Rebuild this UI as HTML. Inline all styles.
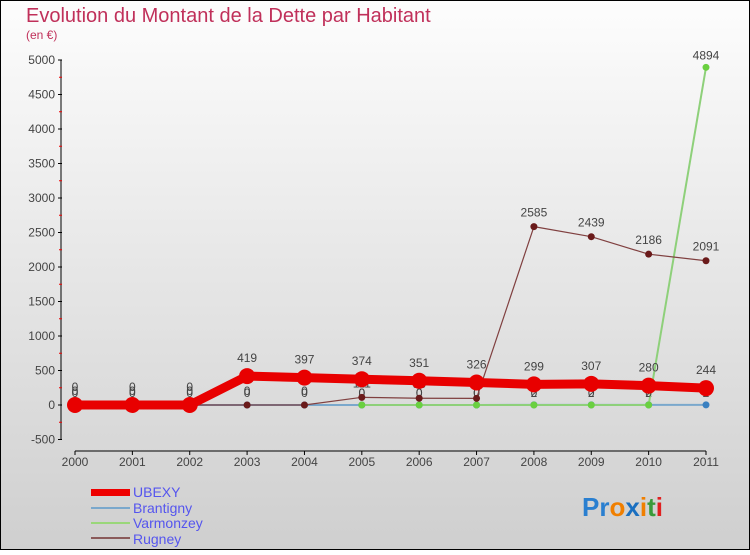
<!DOCTYPE html>
<html><head><meta charset="utf-8"><style>
html,body{margin:0;padding:0}
body{width:750px;height:550px;overflow:hidden;font-family:"Liberation Sans",sans-serif}
svg text{font-family:"Liberation Sans",sans-serif}
</style></head><body>
<svg id="chart" width="750" height="550" xmlns="http://www.w3.org/2000/svg">
<defs><linearGradient id="bg" x1="0" y1="0" x2="0" y2="1"><stop offset="0" stop-color="#fdfdfd"/><stop offset="1" stop-color="#cfcfcf"/></linearGradient></defs>
<rect x="0.5" y="0.5" width="749" height="549" fill="url(#bg)" stroke="#000"/>
<text x="26" y="22" font-size="20" fill="#c0305a">Evolution du Montant de la Dette par Habitant</text>
<text x="26" y="39" font-size="12" fill="#c0305a">(en €)</text>
<g id="axes"></g>
<g id="series"></g>
<g id="legend">
<rect x="91" y="489" width="39" height="7" fill="#e00"/>
<text x="133" y="497" font-size="14" fill="#55e">UBEXY</text>
<line x1="91" y1="508" x2="130" y2="508" stroke="#7aa8cc" stroke-width="2"/>
<text x="133" y="513" font-size="14" fill="#55e">Brantigny</text>
<line x1="91" y1="523" x2="130" y2="523" stroke="#9ad77a" stroke-width="2"/>
<text x="133" y="528" font-size="14" fill="#55e">Varmonzey</text>
<line x1="91" y1="538" x2="130" y2="538" stroke="#8a5a5a" stroke-width="2"/>
<text x="133" y="544" font-size="14" fill="#55e">Rugney</text>
</g>
<g font-size="26" font-weight="bold">
<text x="582" y="516"><tspan fill="#2a7fd0">Pr</tspan><tspan fill="#f07f00">o</tspan><tspan fill="#1a6fc0">x</tspan><tspan fill="#f07f00">i</tspan><tspan fill="#3a9a3a">t</tspan><tspan fill="#e02020">i</tspan></text>
</g>
</svg>
<script>
const years=[2000,2001,2002,2003,2004,2005,2006,2007,2008,2009,2010,2011];
const yTicks=[-500,0,500,1000,1500,2000,2500,3000,3500,4000,4500,5000];
const ubexy=[0,0,0,419,397,374,351,326,299,307,280,244];
const brantigny=[0,0,0,0,0,0,0,0,2,2,2,2];
const varmonzey=[null,null,null,null,null,0,0,0,0,0,0,4894];
const rugney=[0,0,0,0,0,111,98,96,2585,2439,2186,2091];
const NS="http://www.w3.org/2000/svg";
function xS(i){return 75+i*(706-75)/11;}
function yS(v){return 405-v*0.069;}
function mk(tag,attrs,parent){const e=document.createElementNS(NS,tag);for(const k in attrs)e.setAttribute(k,attrs[k]);parent.appendChild(e);return e;}
const axes=document.getElementById('axes');
const ser=document.getElementById('series');
let a=mk('line',{x1:61,y1:yS(5000),x2:61,y2:yS(-500),stroke:'#000'},axes);


a=mk('line',{x1:75,y1:451,x2:706,y2:451,stroke:'#000'},axes);


yTicks.forEach(v=>{
 mk('line',{x1:58,y1:yS(v),x2:62,y2:yS(v),stroke:'#000'},axes);
 if(v<5000) mk('line',{x1:59,y1:yS(v+250),x2:62,y2:yS(v+250),stroke:'#e00'},axes);
 const t=mk('text',{x:55,y:yS(v)+4,'font-size':12,fill:'#444','text-anchor':'end'},axes);
 t.textContent=v;
 
 
});
years.forEach((y,i)=>{
 mk('line',{x1:xS(i),y1:451,x2:xS(i),y2:455,stroke:'#000'},axes);
 const t=mk('text',{x:xS(i),y:466,'font-size':12,fill:'#444','text-anchor':'middle'},axes);
 t.textContent=y;
 
 
});
function draw(name,data,color,w,r,ptColor,labelDy){
 const g=mk('g',{},ser);
 
 
 let d='';
 data.forEach((v,i)=>{if(v===null)return;d+=(d?'L':'M')+xS(i)+' '+yS(v);});
 mk('path',{d:d,fill:'none',stroke:color,'stroke-width':w,'stroke-linejoin':'round'},g);
 data.forEach((v,i)=>{
  if(v===null)return;
  const c=mk('circle',{cx:xS(i),cy:yS(v),r:r,fill:ptColor},g);
  
  
  const t=mk('text',{x:xS(i),y:yS(v)+labelDy,'font-size':12,fill:'#444','text-anchor':'middle'},g);
  t.textContent=v;
  
  
 });
}
draw('brantigny',brantigny,'#7aa8cc',2,3.5,'#3a80c0',-8);
draw('varmonzey',varmonzey,'#8ed07a',2,3.5,'#6ad040',-8);
draw('rugney',rugney,'#804040',1.2,3.5,'#6a1a1a',-10);
draw('ubexy',ubexy,'#e80000',9,8,'#e80000',-14);
</script>
</body></html>
